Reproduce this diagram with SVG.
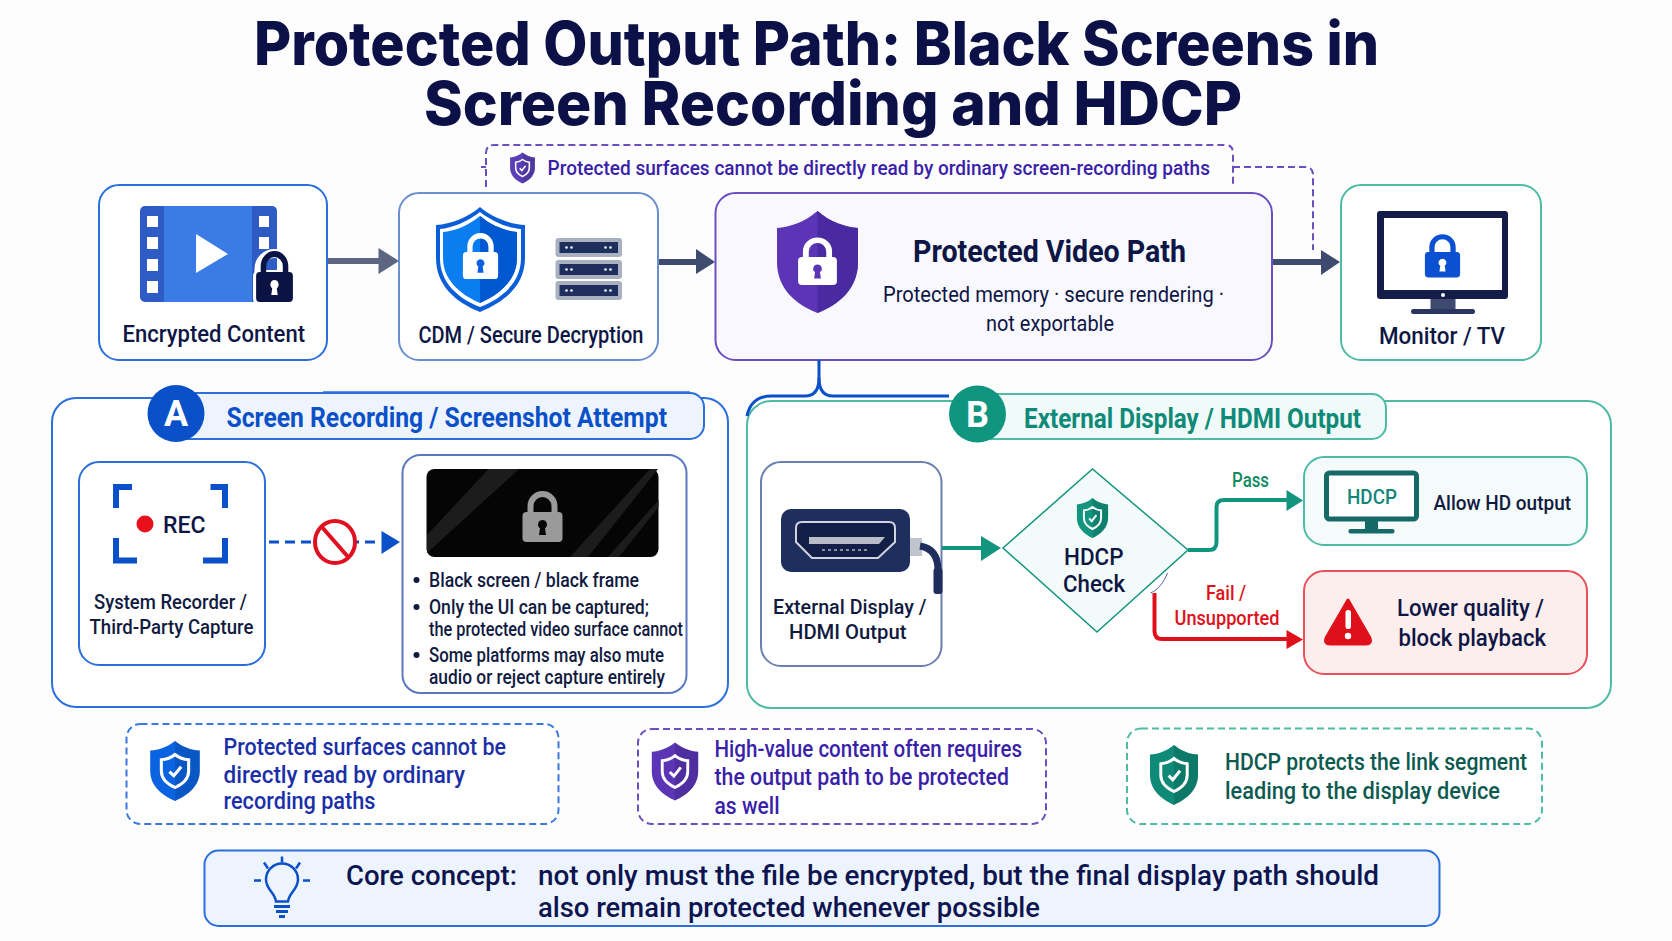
<svg xmlns="http://www.w3.org/2000/svg" width="1672" height="941" viewBox="0 0 1672 941">
<style>
text{font-family:Roboto,"Liberation Sans",sans-serif;font-weight:500;fill:#0d1645}
.title{font-family:Inter,Roboto,sans-serif;font-weight:800;font-size:60px;fill:#0b1147}
.box{fill:#fff;stroke-width:2}
.lbl{font-size:24px}
.sm{font-size:20px;font-weight:500;fill:#111a40}
.blue{stroke:#2a6fdc}.teal{stroke:#4dbba6}.purple{stroke:#6b4fc0}
.dash{fill:#fff;stroke-width:2;stroke-dasharray:7 4}
.note{font-size:23px}
.core{font-size:28px;fill:#0d1550}
.conn{fill:none}
.head{font-weight:700}
</style>
<defs>
<path id="shp" d="M0,-50C12,-40 26,-35 40,-34V0C40,24 22,40 0,50C-22,40 -40,24 -40,0V-34C-26,-35 -12,-40 0,-50Z"/>
<path id="shr" d="M0,-50C12,-40 26,-35 40,-34V0C40,24 22,40 0,50Z"/>
<g id="shc"><use href="#shp" fill="currentColor"/><use href="#shr" fill="#000" fill-opacity=".12"/><path transform="scale(.55)" d="M0,-50C12,-40 26,-35 40,-34V0C40,24 22,40 0,50C-22,40 -40,24 -40,0V-34C-26,-35 -12,-40 0,-50Z" fill="none" stroke="#fff" stroke-width="9"/><path d="M-9,1L-2,8L10,-7" fill="none" stroke="#fff" stroke-width="5"/></g>
<g id="lk"><rect x="-20" y="0" width="40" height="30" rx="4" fill="currentColor"/><path d="M-12,2V-6A12,12 0 0 1 12,-6V2" fill="none" stroke="currentColor" stroke-width="6"/></g>
<path id="kh" d="M0,8a4.500,4.500 0 0 1 2.500,8.200L3.500,23H-3.500L-2.500,16.200A4.500,4.500 0 0 1 0,8Z"/>
<g id="srv"><rect x="0" y="0" width="66.500" height="19" rx="3" fill="#a9b0c0"/><rect x="4" y="4" width="58.500" height="11" fill="#1e2f5e"/><g fill="#fff"><circle cx="11" cy="9.500" r="1.300"/><circle cx="16" cy="9.500" r="1.300"/><circle cx="50" cy="9.500" r="1.300"/><circle cx="55" cy="9.500" r="1.300"/></g></g>
</defs>
<rect width="1672" height="941" fill="#fdfdfe"/>

<g id="title">
<text class="title" x="254" y="65" textLength="1125" lengthAdjust="spacingAndGlyphs">Protected Output Path: Black Screens in</text>
<text class="title" x="424" y="125" textLength="818" lengthAdjust="spacingAndGlyphs">Screen Recording and HDCP</text>
</g>

<g id="callout">
<path d="M486,187V153Q486,145 494,145H1225Q1233,145 1233,153V187" fill="none" class="purple" stroke-width="2" stroke-dasharray="7 4"/>
<use href="#shc" color="#5b3fb8" transform="translate(522.500,168) scale(.31)"/>
<text x="547.500" y="175" font-size="20.500" style="fill:#3a1fa8" textLength="662.500" lengthAdjust="spacingAndGlyphs">Protected surfaces cannot be directly read by ordinary screen-recording paths</text>
</g>

<g id="connectors" class="conn">
<path d="M481,167H486" stroke="#6b4fc0" stroke-width="2"/>
<path d="M1233,167H1305Q1313,167 1313,175V250" stroke="#6b4fc0" stroke-width="2" stroke-dasharray="7 4"/>
<path d="M327,261H379" stroke="#5c6680" stroke-width="6"/><path d="M378.500,248L399,261L378.500,274Z" fill="#5c6680"/>
<path d="M658,262H697" stroke="#3e4a6e" stroke-width="6"/><path d="M696,249L715,262L696,274Z" fill="#3e4a6e"/>
<path d="M1272,262H1322" stroke="#3e4a6e" stroke-width="6"/><path d="M1321,250L1340,262L1321,275Z" fill="#3e4a6e"/>
</g>

<g id="node-encrypted">
<rect class="box blue" x="99" y="185" width="228" height="175" rx="20"/>
<rect x="140" y="206" width="137" height="96" rx="5" fill="#2f5cc4"/>
<rect x="164" y="206" width="88" height="96" fill="#3b7be6"/>
<g fill="#fff"><rect x="147" y="216" width="11" height="11"/><rect x="147" y="237" width="11" height="12"/><rect x="147" y="259" width="11" height="12"/><rect x="147" y="281" width="11" height="12"/><rect x="259" y="216" width="10" height="11"/><rect x="259" y="237" width="10" height="12"/><path d="M196,234L228,254L196,273Z"/></g>
<rect x="253" y="270" width="43" height="35" rx="6" fill="#fff"/><path d="M259,272V269A15.500,15.500 0 0 1 290,269V272" fill="none" stroke="#fff" stroke-width="9"/>
<g color="#0b1345" transform="translate(274.500,272) scale(.92,1)"><use href="#lk"/><use href="#kh" fill="#fff"/></g>
<text class="lbl" x="122.500" y="342" textLength="182.500" lengthAdjust="spacingAndGlyphs">Encrypted Content</text>
</g>

<g id="node-cdm">
<rect class="box" stroke="#6a8fd0" x="399" y="193" width="259" height="167" rx="20"/>
<path d="M480,207C493,218 510,224 525,225V258C525,285 505,302 480,312C455,302 436,285 436,258V225C451,224 467,218 480,207Z" fill="#0a5fd8"/>
<path d="M480,212C493,222 508,228 521,229V258C521,282 503,298 480,307C457,298 440,282 440,258V229C452,228 467,222 480,212Z" fill="#fff"/>
<path d="M480,216C492,226 506,231 517,232V258C517,279 501,294 480,303C459,294 443,279 443,258V232C454,231 468,226 480,216Z" fill="#0a7ef0"/>
<path d="M480,216C492,226 506,231 517,232V258C517,279 501,294 480,303Z" fill="#0058d0"/>
<g color="#fff" transform="translate(480.500,252) scale(.88,.9)"><use href="#lk"/><use href="#kh" fill="#0a60e0"/></g>
<use href="#srv" x="555.500" y="238"/><use href="#srv" x="555.500" y="260"/><use href="#srv" x="555.500" y="281"/>
<text class="lbl" x="418.500" y="343" textLength="225" lengthAdjust="spacingAndGlyphs">CDM / Secure Decryption</text>
</g>

<g id="node-protected">
<rect class="purple" fill="#f9f8fe" stroke-width="2" x="715.500" y="193" width="556.500" height="167" rx="20"/>
<path d="M817.500,211C830,222 845,227 858,228V262C858,288 840,304 817.500,313C795,304 777,288 777,262V228C790,227 805,222 817.500,211Z" fill="#5b35b5"/>
<path d="M817.500,211C830,222 845,227 858,228V262C858,288 840,304 817.500,313Z" fill="#4a2aa0"/>
<g color="#fff" transform="translate(817.500,257) scale(.97,.93)"><use href="#lk"/><use href="#kh" fill="#5b35b5"/></g>
<text class="head" x="913" y="262" font-size="31" textLength="273" lengthAdjust="spacingAndGlyphs">Protected Video Path</text>
<text x="883" y="302" font-size="22" style="font-weight:400" textLength="341" lengthAdjust="spacingAndGlyphs">Protected memory · secure rendering ·</text>
<text x="986" y="331" font-size="22" style="font-weight:400" textLength="128" lengthAdjust="spacingAndGlyphs">not exportable</text>
</g>

<g id="node-monitor">
<rect class="box teal" x="1341" y="185" width="200" height="175" rx="20"/>
<rect x="1377" y="211" width="131" height="88" rx="3" fill="#141d4a"/>
<rect x="1384" y="218" width="118" height="72" fill="#fff"/>
<rect x="1430.500" y="299" width="25" height="11" fill="#3e4a6e"/><rect x="1411" y="309" width="64" height="5" rx="2.500" fill="#2a3560"/>
<circle cx="1443" cy="295" r="2" fill="#fff"/>
<g color="#0a50d0" transform="translate(1442.500,252) scale(.88,.85)"><use href="#lk"/><use href="#kh" fill="#fff"/></g>
<text class="lbl" x="1379" y="344" textLength="126" lengthAdjust="spacingAndGlyphs">Monitor / TV</text>
</g>

<g id="node-panel-a">
<rect class="box blue" fill="#fff" x="52" y="398" width="676" height="309" rx="24"/>
<path d="M323,392H690" stroke="#2a6fdc" stroke-width="1.500" fill="none"/>
<rect x="170" y="393" width="534" height="46" rx="14" fill="#eef4fd" class="blue" stroke-width="2"/>
<circle cx="176" cy="413.500" r="28.500" fill="#0a50c8"/>
<text x="176" y="426" font-size="36" text-anchor="middle" style="fill:#fff;font-weight:700">A</text>
<text class="head" x="226.500" y="427" font-size="28" style="fill:#0a50c8" textLength="440.500" lengthAdjust="spacingAndGlyphs">Screen Recording / Screenshot Attempt</text>
</g>

<g id="node-recorder">
<rect class="box blue" x="79" y="462" width="186" height="203" rx="20"/>
<g fill="none" stroke="#0a50c8" stroke-width="6"><path d="M132,487H116V508"/><path d="M210.500,487H225V508"/><path d="M116,538V560.500H137"/><path d="M225,538V560.500H203"/></g>
<circle cx="145" cy="524" r="8.500" fill="#e8101a"/>
<text x="163" y="533" font-size="24" textLength="42.500" lengthAdjust="spacingAndGlyphs">REC</text>
<text class="sm" x="94" y="609" textLength="153" lengthAdjust="spacingAndGlyphs">System Recorder /</text>
<text class="sm" x="89.500" y="634" textLength="164" lengthAdjust="spacingAndGlyphs">Third-Party Capture</text>
</g>

<g id="node-result">
<rect class="box" stroke="#5a78c0" x="402.500" y="455" width="284" height="238" rx="18"/>
<rect x="426.500" y="469" width="232" height="88" rx="8" fill="#050505"/>
<g fill="#1c1c1c"><path d="M488.500,469H519L427,553V535Z"/><path d="M650,469H658L588,557H570Z"/><path d="M658.500,500V507L619,557H608Z"/></g>
<g color="#9a9a9a" transform="translate(542.500,512)"><use href="#lk"/><use href="#kh" fill="#050505"/></g>
<g fill="#111a40"><circle cx="416.500" cy="580" r="3"/><circle cx="416.500" cy="607" r="3"/><circle cx="416.500" cy="655" r="3"/></g>
<text class="sm" x="429" y="587" textLength="210" lengthAdjust="spacingAndGlyphs">Black screen / black frame</text>
<text class="sm" x="429" y="614" textLength="220" lengthAdjust="spacingAndGlyphs">Only the UI can be captured;</text>
<text class="sm" x="429" y="636" textLength="254" lengthAdjust="spacingAndGlyphs">the protected video surface cannot</text>
<text class="sm" x="429" y="662" textLength="235" lengthAdjust="spacingAndGlyphs">Some platforms may also mute</text>
<text class="sm" x="429" y="684" textLength="236" lengthAdjust="spacingAndGlyphs">audio or reject capture entirely</text>
</g>

<g id="node-panel-b">
<rect class="box teal" x="747" y="401" width="864" height="307" rx="24"/>
<rect x="975" y="394" width="411" height="45" rx="14" fill="#f0faf8" class="teal" stroke-width="2"/>
<circle cx="977.500" cy="414" r="28.500" fill="#0f9580"/>
<text x="977.500" y="427" font-size="36" text-anchor="middle" style="fill:#fff;font-weight:700">B</text>
<text class="head" x="1024" y="428" font-size="27" style="fill:#0f8a78" textLength="337" lengthAdjust="spacingAndGlyphs">External Display / HDMI Output</text>
</g>

<g id="node-hdmi">
<rect class="box" stroke="#6a80b0" x="761" y="462" width="180.500" height="204" rx="20"/>
<rect x="910" y="538" width="12" height="18" fill="#c0c4cc"/>
<path d="M920,546C932,548 938,556 938,570" fill="none" stroke="#1e2f5e" stroke-width="7"/>
<rect x="933.500" y="568" width="9" height="26" rx="3" fill="#1e2f5e"/>
<rect x="781" y="509" width="129" height="63" rx="10" fill="#1e2f5e"/>
<path d="M796,528Q796,522 802,522H889Q895,522 895,528V542L878,558H812L796,542Z" fill="#141f48" stroke="#d0d4e0" stroke-width="2"/>
<path d="M809,537H885L879,544H809Z" fill="#b8bcc8"/>
<path d="M822,550H870" stroke="#8a90a4" stroke-width="2" stroke-dasharray="3 3" fill="none"/>
<text class="sm" x="773" y="614" textLength="153.500" lengthAdjust="spacingAndGlyphs">External Display /</text>
<text class="sm" x="789" y="639" textLength="117.500" lengthAdjust="spacingAndGlyphs">HDMI Output</text>
</g>

<g id="node-check">
<path d="M1003,548L1092.500,469L1188,550L1097,632Z" fill="#f3fbfa" stroke="#12957f" stroke-width="1.500"/>
<use href="#shc" color="#12957f" transform="translate(1092.500,518) scale(.39,.4)"/>
<text x="1064" y="565" font-size="24" textLength="59.500" lengthAdjust="spacingAndGlyphs">HDCP</text>
<text x="1063" y="592" font-size="24" textLength="62" lengthAdjust="spacingAndGlyphs">Check</text>
</g>

<g id="node-allow">
<rect x="1304" y="457" width="283" height="88" rx="20" fill="#f5fbfa" class="teal" stroke-width="2"/>
<rect x="1326.500" y="473" width="90" height="46" rx="3" fill="#fff" stroke="#156a68" stroke-width="5"/>
<rect x="1365" y="521" width="13" height="10" fill="#156a68"/><rect x="1348.500" y="529" width="46" height="4.500" rx="2" fill="#156a68"/>
<text x="1347" y="504" font-size="21" style="fill:#12857a" textLength="50" lengthAdjust="spacingAndGlyphs">HDCP</text>
<text class="sm" x="1433.500" y="510" textLength="137.500" lengthAdjust="spacingAndGlyphs">Allow HD output</text>
</g>

<g id="node-block">
<rect x="1304" y="571" width="283" height="103" rx="20" fill="#fdeeee" stroke="#e8505a" stroke-width="2"/>
<path d="M1348,600L1370,638Q1372,644 1366,644H1330Q1324,644 1326,638Z" fill="#e0101a" stroke="#e0101a" stroke-width="3" stroke-linejoin="round"/>
<rect x="1345.500" y="610" width="5.500" height="19" rx="2.500" fill="#fff"/><circle cx="1348" cy="636" r="3.200" fill="#fff"/>
<text x="1397" y="616" font-size="24" textLength="147" lengthAdjust="spacingAndGlyphs">Lower quality /</text>
<text x="1398.500" y="646" font-size="24" textLength="147.500" lengthAdjust="spacingAndGlyphs">block playback</text>
</g>

<g id="connectors-lower" class="conn">
<path d="M819,360V378C819,390 814,396 805,396H772C758,396 750,402 747,416" stroke="#0a50c8" stroke-width="3"/>
<path d="M819,378C819,390 824,396 833,396H949" stroke="#0a50c8" stroke-width="3"/>
<path d="M269,542H380" stroke="#0a50c8" stroke-width="3" stroke-dasharray="10 6"/><path d="M381.500,531L400,542L381.500,554Z" fill="#0a50c8"/>
<ellipse cx="335" cy="542" rx="20" ry="21" fill="#fff" stroke="#e01020" stroke-width="4"/><path d="M321,526L349,558" stroke="#e01020" stroke-width="4"/>
<path d="M942,548H982" stroke="#12957f" stroke-width="4"/><path d="M981,536L1001,548L981,561Z" fill="#12957f"/>
<path d="M1188,550H1209Q1216.500,550 1216.500,542V507Q1216.500,500 1224,500H1287" stroke="#12957f" stroke-width="4"/><path d="M1286.500,490L1303,500.500L1286.500,511Z" fill="#12957f"/>
<path d="M1154.500,593V631Q1154.500,639 1162,639H1287" stroke="#e0101a" stroke-width="4"/><path d="M1286.500,630L1303,639.500L1286.500,649Z" fill="#e0101a"/>
<path d="M1167.500,573C1164,582 1158,590 1150.500,593" stroke="#4a60a8" stroke-width="1"/>
<text x="1232" y="487" font-size="20" style="fill:#128a62" textLength="37" lengthAdjust="spacingAndGlyphs">Pass</text>
<text x="1206" y="600" font-size="20" style="fill:#e0101a" textLength="40" lengthAdjust="spacingAndGlyphs">Fail /</text>
<text x="1174.500" y="625" font-size="20" style="fill:#e0101a" textLength="105" lengthAdjust="spacingAndGlyphs">Unsupported</text>
</g>

<g id="note-1">
<rect class="dash" stroke="#3a78e0" x="126.500" y="728" width="432" height="100" rx="14" transform="translate(0,-4)"/>
<use href="#shc" color="#0a63e0" transform="translate(175,771) scale(.62,.6)"/>
<text class="note" style="fill:#1a2fa8" x="223.500" y="755" textLength="282.500" lengthAdjust="spacingAndGlyphs">Protected surfaces cannot be</text>
<text class="note" style="fill:#1a2fa8" x="223.500" y="783" textLength="241.500" lengthAdjust="spacingAndGlyphs">directly read by ordinary</text>
<text class="note" style="fill:#1a2fa8" x="223.500" y="809" textLength="152" lengthAdjust="spacingAndGlyphs">recording paths</text>
</g>
<g id="note-2">
<rect class="dash" stroke="#6b4fc0" x="638" y="729" width="408" height="95" rx="14"/>
<use href="#shc" color="#5b35b5" transform="translate(675,771.500) scale(.58,.58)"/>
<text class="note" style="fill:#3a1fa8" x="714.500" y="757" textLength="307.500" lengthAdjust="spacingAndGlyphs">High-value content often requires</text>
<text class="note" style="fill:#3a1fa8" x="714.500" y="785" textLength="294.500" lengthAdjust="spacingAndGlyphs">the output path to be protected</text>
<text class="note" style="fill:#3a1fa8" x="714.500" y="814" textLength="65" lengthAdjust="spacingAndGlyphs">as well</text>
</g>
<g id="note-3">
<rect class="dash" stroke="#4dbba6" x="1127" y="728.500" width="415" height="95.500" rx="14"/>
<use href="#shc" color="#0f8a78" transform="translate(1174,775) scale(.6,.6)"/>
<text class="note" style="fill:#0d5a50" x="1225" y="770" textLength="302" lengthAdjust="spacingAndGlyphs">HDCP protects the link segment</text>
<text class="note" style="fill:#0d5a50" x="1225" y="799" textLength="275" lengthAdjust="spacingAndGlyphs">leading to the display device</text>
</g>
<g id="node-core">
<rect x="204.500" y="850.500" width="1242" height="75.500" rx="14" fill="#eef4fd" stroke="#2a6fdc" stroke-width="2" transform="translate(0,0)" style="width:1235px"/>
<g fill="none" stroke="#0a50c8" stroke-width="2.500" transform="translate(-3,-3.500)"><path d="M279,905C278,896 269,893 269,883A16,16 0 0 1 301,883C301,893 292,896 291,905Z"/><path d="M277,910H293M279,915H291M282,920H288" stroke-width="3"/><path d="M285,860V866M267,866L271,872M303,866L299,872M257,884H264M306,884H313"/></g>
<text class="core" x="346" y="884.500" textLength="171" lengthAdjust="spacingAndGlyphs">Core concept:</text>
<text class="core" x="538" y="884.500" textLength="841" lengthAdjust="spacingAndGlyphs">not only must the file be encrypted, but the final display path should</text>
<text class="core" x="538" y="916.500" textLength="502" lengthAdjust="spacingAndGlyphs">also remain protected whenever possible</text>
</g>
</svg>
